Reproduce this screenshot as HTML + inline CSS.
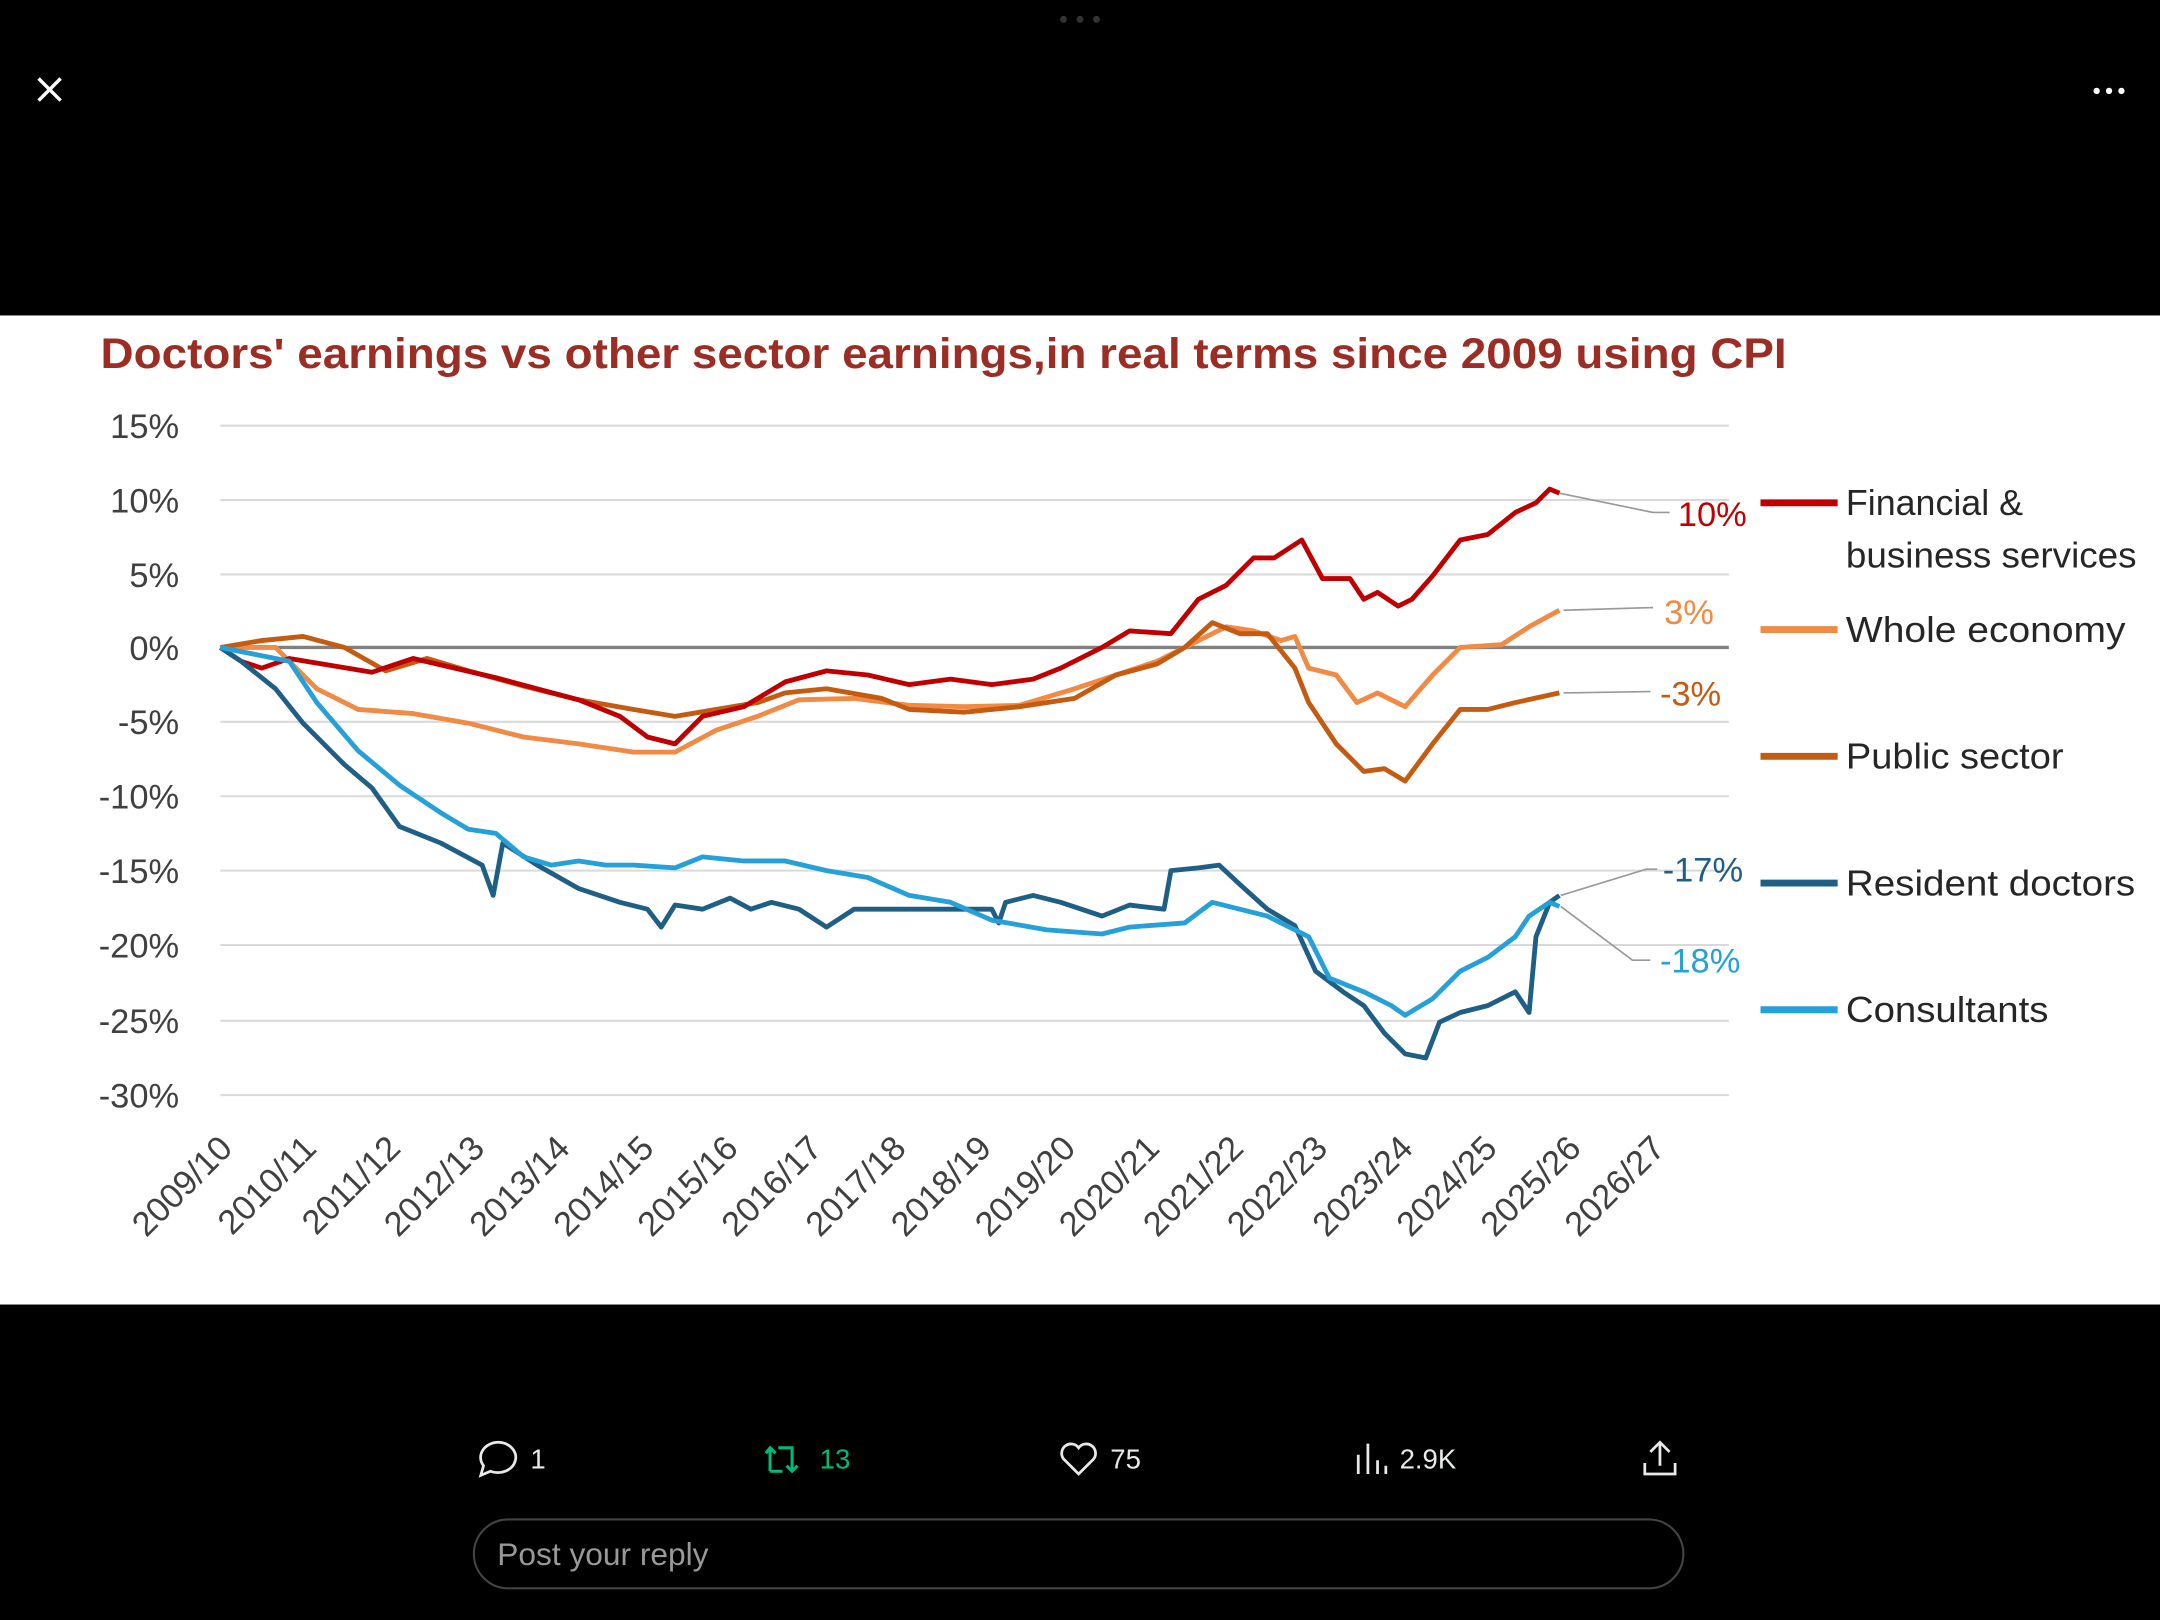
<!DOCTYPE html>
<html><head><meta charset="utf-8"><style>
html,body{margin:0;padding:0;background:#000;}
svg{display:block}
text{font-family:"Liberation Sans",sans-serif;}
</style></head><body>
<svg width="2160" height="1620" viewBox="0 0 1568 1176" xmlns="http://www.w3.org/2000/svg">
<rect width="1568" height="1176" fill="#000"/>
<circle cx="772" cy="14" r="2.5" fill="#333"/><circle cx="784" cy="14" r="2.5" fill="#333"/><circle cx="796" cy="14" r="2.5" fill="#333"/>
<path d="M28 57 L44 73 M44 57 L28 73" stroke="#fff" stroke-width="2.5"/>
<circle cx="1522" cy="66" r="2.3" fill="#fff"/><circle cx="1531" cy="66" r="2.3" fill="#fff"/><circle cx="1540" cy="66" r="2.3" fill="#fff"/>
<rect x="0" y="229" width="1568" height="718" fill="#fff"/>
<text x="73" y="267" font-size="31" font-weight="bold" fill="#9b2d24" textLength="1224" lengthAdjust="spacingAndGlyphs">Doctors' earnings vs other sector earnings,in real terms since 2009 using CPI</text>
<g stroke="#d9d9d9" stroke-width="1.5">
<line x1="160" y1="309" x2="1255" y2="309"/><line x1="160" y1="363" x2="1255" y2="363"/><line x1="160" y1="417" x2="1255" y2="417"/>
<line x1="160" y1="524" x2="1255" y2="524"/><line x1="160" y1="578" x2="1255" y2="578"/><line x1="160" y1="632" x2="1255" y2="632"/>
<line x1="160" y1="686" x2="1255" y2="686"/><line x1="160" y1="741" x2="1255" y2="741"/><line x1="160" y1="795" x2="1255" y2="795"/>
</g>
<line x1="160" y1="470" x2="1255" y2="470" stroke="#808080" stroke-width="2.5"/>
<g font-size="25" fill="#404040" text-anchor="end">
<text x="130" y="318">15%</text><text x="130" y="372">10%</text><text x="130" y="426">5%</text><text x="130" y="479">0%</text>
<text x="130" y="533">-5%</text><text x="130" y="587">-10%</text><text x="130" y="641">-15%</text><text x="130" y="695">-20%</text>
<text x="130" y="750">-25%</text><text x="130" y="804">-30%</text>
</g>
<g font-size="25" fill="#404040" text-anchor="end">
<text transform="translate(170,835) rotate(-45)">2009/10</text>
<text transform="translate(231,835) rotate(-45)">2010/11</text>
<text transform="translate(292,835) rotate(-45)">2011/12</text>
<text transform="translate(353,835) rotate(-45)">2012/13</text>
<text transform="translate(415,835) rotate(-45)">2013/14</text>
<text transform="translate(476,835) rotate(-45)">2014/15</text>
<text transform="translate(537,835) rotate(-45)">2015/16</text>
<text transform="translate(598,835) rotate(-45)">2016/17</text>
<text transform="translate(659,835) rotate(-45)">2017/18</text>
<text transform="translate(721,835) rotate(-45)">2018/19</text>
<text transform="translate(782,835) rotate(-45)">2019/20</text>
<text transform="translate(843,835) rotate(-45)">2020/21</text>
<text transform="translate(904,835) rotate(-45)">2021/22</text>
<text transform="translate(965,835) rotate(-45)">2022/23</text>
<text transform="translate(1027,835) rotate(-45)">2023/24</text>
<text transform="translate(1088,835) rotate(-45)">2024/25</text>
<text transform="translate(1149,835) rotate(-45)">2025/26</text>
<text transform="translate(1210,835) rotate(-45)">2026/27</text>
</g>
<g fill="none" stroke-width="3.5" stroke-linejoin="round">
<polyline stroke="#f08a45" points="160,470 200,470 230,500 260,515 300,518 340,525 380,535 420,540 460,546 490,546 520,530 550,520 580,508 620,507 660,512 700,513 740,512 780,500 810,490 840,480 870,465 890,455 910,458 930,465 940,462 950,485 970,490 985,510 1000,503 1020,513 1040,490 1060,470 1090,468 1110,455 1132,443"/>
<polyline stroke="#c55a11" points="160,470 190,465 220,462 250,470 280,487 310,478 340,487 380,498 420,508 460,515 490,520 520,515 550,510 570,503 600,500 640,507 660,515 700,517 740,513 780,507 810,490 840,482 860,470 880,452 900,460 920,460 940,485 950,510 970,540 990,560 1005,558 1020,567 1040,540 1060,515 1080,515 1100,510 1132,503"/>
<polyline stroke="#c00000" points="160,470 175,480 190,485 210,478 240,483 270,488 300,478 330,485 360,492 390,500 420,508 450,520 470,535 490,540 510,520 540,513 570,495 600,487 630,490 660,497 690,493 720,497 750,493 770,485 800,470 820,458 850,460 870,435 890,425 910,405 925,405 945,392 960,420 980,420 990,435 1000,430 1015,440 1025,435 1040,418 1060,392 1080,388 1100,372 1115,365 1125,355 1132,358"/>
<polyline stroke="#1f5f85" points="160,470 175,480 200,500 220,525 250,555 270,572 290,600 320,612 350,628 358,650 365,612 390,628 420,645 450,655 470,660 480,673 490,657 510,660 530,652 545,660 560,655 580,660 600,673 620,660 660,660 680,660 720,660 725,670 730,655 750,650 770,655 800,665 820,657 845,660 850,632 870,630 885,628 900,642 920,660 940,672 955,705 975,720 990,730 1005,750 1020,765 1035,768 1045,742 1060,735 1080,730 1100,720 1110,735 1115,680 1125,655 1132,650"/>
<polyline stroke="#26a0d8" points="160,470 210,480 230,510 260,545 290,570 320,590 340,602 360,605 380,622 400,628 420,625 440,628 460,628 490,630 510,622 540,625 570,625 600,632 630,637 660,650 690,655 720,668 760,675 800,678 820,673 860,670 880,655 900,660 920,665 950,680 965,710 990,720 1010,730 1020,737 1040,725 1060,705 1080,695 1100,680 1110,665 1125,655 1132,658"/>
</g>
<g stroke="#999" stroke-width="1.2" fill="none">
<polyline points="1132,358 1200,372 1212,372"/>
<polyline points="1135,443 1200,441"/>
<polyline points="1135,503 1198,502"/>
<polyline points="1133,650 1195,631 1203,631"/>
<polyline points="1133,658 1185,697 1198,697"/>
</g>
<g font-size="25">
<text x="1218" y="382" fill="#c00000">10%</text>
<text x="1208" y="453" fill="#f08a45">3%</text>
<text x="1205" y="512" fill="#c55a11">-3%</text>
<text x="1207" y="640" fill="#1f5f85">-17%</text>
<text x="1205" y="706" fill="#26a0d8">-18%</text>
</g>
<g stroke-width="5">
<line x1="1278" y1="365" x2="1334" y2="365" stroke="#c00000"/>
<line x1="1278" y1="457" x2="1334" y2="457" stroke="#f08a45"/>
<line x1="1278" y1="549" x2="1334" y2="549" stroke="#c55a11"/>
<line x1="1278" y1="641" x2="1334" y2="641" stroke="#1f5f85"/>
<line x1="1278" y1="733" x2="1334" y2="733" stroke="#26a0d8"/>
</g>
<g font-size="26" fill="#262626">
<text x="1340" y="374">Financial &amp;</text>
<text x="1340" y="412" textLength="211" lengthAdjust="spacingAndGlyphs">business services</text>
<text x="1340" y="466" textLength="203" lengthAdjust="spacingAndGlyphs">Whole economy</text>
<text x="1340" y="558" textLength="158" lengthAdjust="spacingAndGlyphs">Public sector</text>
<text x="1340" y="650" textLength="210" lengthAdjust="spacingAndGlyphs">Resident doctors</text>
<text x="1340" y="742" textLength="147" lengthAdjust="spacingAndGlyphs">Consultants</text>
</g>
<g stroke="#e7e9ea" stroke-width="2" fill="none">
<path d="M362 1047 a13 11 0 1 1 -6 21 l-7 3 l2 -7 a13 11 0 0 1 11 -17z"/>
<path d="M783 1070 l-11 -11 a6 6 0 0 1 11 -8 a6 6 0 0 1 11 8z"/>
<path d="M986 1070 v-14 M993 1070 v-22 M1000 1070 v-10 M1006 1070 v-6"/>
<path d="M1205 1064 v-17 M1198 1054 l7 -7 l7 7 M1194 1062 v8 h22 v-8"/>
</g>
<g stroke="#00ba7c" stroke-width="2.2" fill="none">
<path d="M561 1052 h-2 v16 M556 1055 l3 -4 l4 4 M565 1051 h10 v16 M571 1064 l4 4 l4 -4 M559 1068 h9"/>
</g>
<g font-size="20">
<text x="385" y="1066" fill="#e7e9ea">1</text>
<text x="595" y="1066" fill="#00ba7c">13</text>
<text x="806" y="1066" fill="#e7e9ea">75</text>
<text x="1016" y="1066" fill="#e7e9ea">2.9K</text>
</g>
<rect x="344" y="1103" width="878" height="50" rx="25" fill="#000" stroke="#444" stroke-width="1.5"/>
<text x="361" y="1136" font-size="23" fill="#999">Post your reply</text>
</svg>
</body></html>
